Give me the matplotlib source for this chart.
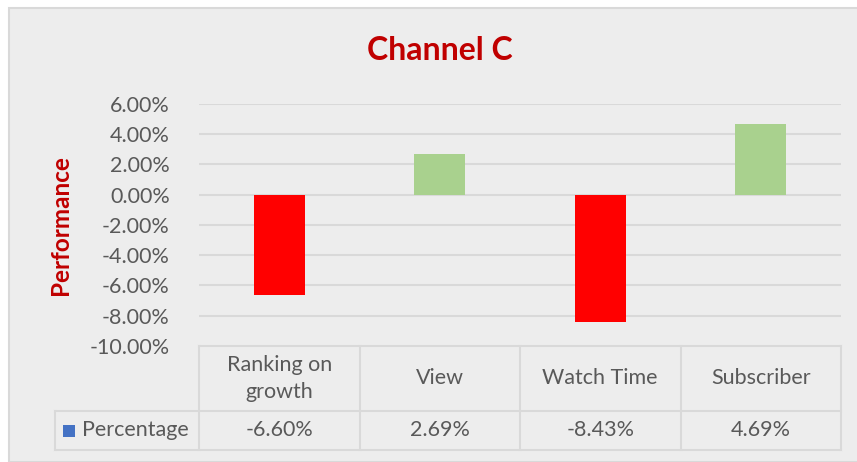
import numpy as np
import matplotlib.pyplot as plt
from matplotlib.patches import Rectangle
from matplotlib.lines import Line2D
from matplotlib.ticker import PercentFormatter
import matplotlib.transforms as mtransforms

categories = ['Ranking on\ngrowth', 'View', 'Watch Time', 'Subscriber']
values = [-6.60, 2.69, -8.43, 4.69]
value_labels = ['-6.60%', '2.69%', '-8.43%', '4.69%']
series_name = 'Percentage'
yticks = [6, 4, 2, 0, -2, -4, -6, -8, -10]

plt.rcParams['font.family'] = ['Lato', 'DejaVu Sans']
plt.rcParams['axes.unicode_minus'] = False

W, H = 857, 462
fig = plt.figure(figsize=(W / 100, H / 100), dpi=100, facecolor='white')
bg = '#EDEDED'
fig.patches.append(Rectangle((9 / W, 0), 1, 1 - 8 / H, transform=fig.transFigure,
                             facecolor=bg, edgecolor='#D9D9D9', linewidth=1.5, zorder=-5))

ax = fig.add_axes([199 / W, 1 - 346 / H, (841 - 199) / W, (346 - 104) / H])
ax.set_facecolor('none')
x = np.arange(len(categories))
cols = ['#FF0000' if v < 0 else '#A9D18E' for v in values]
ax.bar(x, values, width=0.32, color=cols, zorder=3)
ax.set_xlim(-0.5, len(categories) - 0.5)
ax.set_ylim(-10, 6)
ax.set_yticks(yticks)
ax.yaxis.set_major_formatter(PercentFormatter(decimals=2))
ax.tick_params(axis='y', length=0, pad=21, labelsize=15.5, labelcolor='#595959')
ax.set_xticks([])
for s in ax.spines.values():
    s.set_visible(False)
for t in yticks[:-1]:
    ax.axhline(t, color='#D9D9D9', linewidth=1.5, zorder=1)

fig.text(440 / W, 1 - 50 / H, 'Channel C', ha='center', va='center',
         fontsize=23, fontweight='bold', color='#C00000')
fig.text(61 / W, 1 - 225 / H, 'Performance', ha='center', va='center', rotation=90,
         fontsize=17.5, fontweight='bold', color='#C00000')

# data table under the axis
tr = mtransforms.blended_transform_factory(ax.transData, fig.transFigure)
y_top, y_mid, y_bot = 1 - 346 / H, 1 - 411 / H, 1 - 450 / H
lc = '#D9D9D9'
lw = 1.5
fig.lines.append(Line2D([-0.5, len(categories) - 0.5], [y_top, y_top], transform=tr, color=lc, lw=lw))
for xe in np.arange(len(categories) + 1) - 0.5:
    fig.lines.append(Line2D([xe, xe], [y_bot, y_top], transform=tr, color=lc, lw=lw))
for yy in (y_mid, y_bot):
    fig.lines.append(Line2D([55 / W, 841 / W], [yy, yy], transform=fig.transFigure, color=lc, lw=lw))
fig.lines.append(Line2D([55 / W, 55 / W], [y_bot, y_mid], transform=fig.transFigure, color=lc, lw=lw))

for i, (c, lab) in enumerate(zip(categories, value_labels)):
    fig.text(i, (y_top + y_mid) / 2, c, transform=tr, ha='center', va='center',
             fontsize=15.5, color='#595959', linespacing=1.45)
    fig.text(i, (y_mid + y_bot) / 2, lab, transform=tr, ha='center', va='center',
             fontsize=15.5, color='#595959')

fig.patches.append(Rectangle((63 / W, 1 - 437 / H), 12 / W, 12 / H, transform=fig.transFigure,
                             facecolor='#4472C4', edgecolor='none'))
fig.text(82 / W, (y_mid + y_bot) / 2, series_name, ha='left', va='center',
         fontsize=15.5, color='#595959')

plt.savefig('out.png', dpi=100, facecolor='white')
